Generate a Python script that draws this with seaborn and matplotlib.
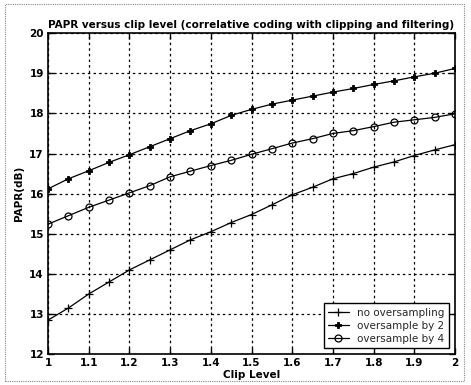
import numpy as np
import pandas as pd
import matplotlib
matplotlib.use("Agg")
import matplotlib.pyplot as plt
import seaborn as sns

clip = [1.00, 1.05, 1.10, 1.15, 1.20, 1.25, 1.30, 1.35, 1.40, 1.45, 1.50,
        1.55, 1.60, 1.65, 1.70, 1.75, 1.80, 1.85, 1.90, 1.95, 2.00]
no_os = [12.85, 13.15, 13.50, 13.80, 14.10, 14.35, 14.60, 14.85, 15.05, 15.28, 15.48,
         15.72, 15.97, 16.16, 16.37, 16.50, 16.66, 16.79, 16.95, 17.09, 17.22]
os2 = [16.12, 16.37, 16.57, 16.78, 16.97, 17.17, 17.37, 17.57, 17.74, 17.95, 18.10,
       18.23, 18.33, 18.43, 18.53, 18.62, 18.72, 18.81, 18.91, 19.00, 19.12]
os4 = [15.24, 15.45, 15.66, 15.84, 16.02, 16.20, 16.42, 16.56, 16.70, 16.83, 16.98,
       17.12, 17.26, 17.37, 17.50, 17.57, 17.67, 17.78, 17.84, 17.90, 17.99]
labels = ["no oversampling", "oversample by 2", "oversample by 4"]
xticks = [1, 1.1, 1.2, 1.3, 1.4, 1.5, 1.6, 1.7, 1.8, 1.9, 2]
xticklabels = ["1", "1.1", "1.2", "1.3", "1.4", "1.5", "1.6", "1.7", "1.8", "1.9", "2"]
yticks = [12, 13, 14, 15, 16, 17, 18, 19, 20]

df = pd.DataFrame({
    "clip": clip * 3,
    "papr": no_os + os2 + os4,
    "series": [labels[0]] * len(clip) + [labels[1]] * len(clip) + [labels[2]] * len(clip),
})

sns.set_style("white")
plt.rcParams["font.family"] = ["DejaVu Sans"]
fig = plt.figure(figsize=(4.71, 3.85), dpi=100)
ax = fig.add_axes([0.102, 0.08, 0.864, 0.834])

for lab in labels:
    sub = df[df["series"] == lab]
    if lab == labels[2]:
        kw = dict(marker="o", markerfacecolor="none", markeredgecolor="black",
                  markersize=5, markeredgewidth=0.9)
    elif lab == labels[1]:
        kw = dict(marker="P", markerfacecolor="black", markeredgecolor="black",
                  markersize=4.5, markeredgewidth=0.6)
    else:
        kw = dict(marker="+", markeredgecolor="black", markersize=6, markeredgewidth=0.9)
    sns.lineplot(data=sub, x="clip", y="papr", color="black", linewidth=0.9,
                 ax=ax, label=lab, **kw)

ax.set_xlim(1, 2)
ax.set_ylim(12, 20)
ax.set_xticks(xticks)
ax.set_xticklabels(xticklabels)
ax.set_yticks(yticks)
ax.grid(True, color="black", linestyle=(0, (2, 2.5)), linewidth=0.9)
for s in ax.spines.values():
    s.set_color("black")
    s.set_linewidth(1.2)
ax.tick_params(direction="in", length=4, width=1, labelsize=7.5, top=True, right=True,
               bottom=True, left=True, pad=3, colors="black")
for t in ax.get_xticklabels() + ax.get_yticklabels():
    t.set_fontweight("bold")
ax.set_xlabel("Clip Level", fontsize=7.5, fontweight="bold", labelpad=1, color="black")
ax.set_ylabel("PAPR(dB)", fontsize=7.5, fontweight="bold", labelpad=4, color="black")
ax.set_title("PAPR versus clip level (correlative coding with clipping and filtering)",
             fontsize=7.5, fontweight="bold", pad=4, color="black")
leg = ax.legend(loc="lower right", fontsize=7.5, frameon=True, fancybox=False,
                edgecolor="black", borderaxespad=0.6, handlelength=2.0,
                borderpad=0.4, labelspacing=0.3)
leg.get_frame().set_linewidth(1.0)
leg.get_frame().set_alpha(1)

fig.patches.append(plt.Rectangle((0.01, 0.01), 0.975, 0.98, transform=fig.transFigure,
                                 fill=False, edgecolor="#888888", linewidth=0.8,
                                 linestyle=(0, (1, 1))))
fig.savefig("out.png", dpi=100)
